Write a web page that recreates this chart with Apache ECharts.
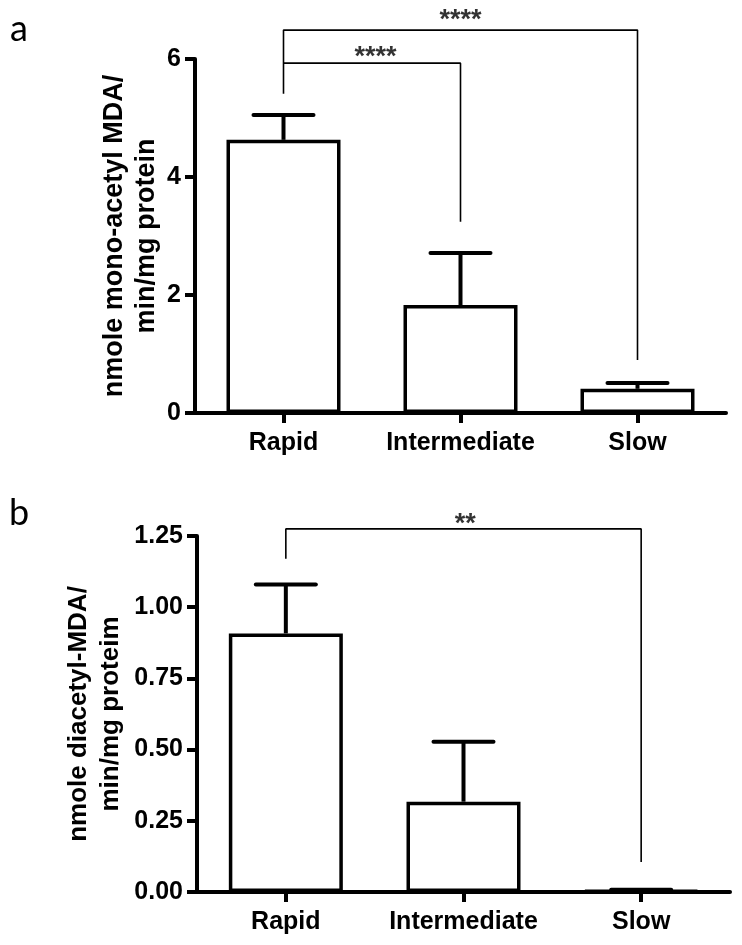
<!DOCTYPE html>
<html><head><meta charset="utf-8">
<script src="https://cdn.jsdelivr.net/npm/echarts@6/dist/echarts.min.js"></script>
<style>html,body{margin:0;padding:0;background:#fff}#c{width:742px;height:945px}</style>
</head><body><div id="c"></div>
<script>
// ---- data ----
const categories = ['Rapid', 'Intermediate', 'Slow'];
const monoMean = [4.63, 1.83, 0.41];
const monoUpper = [5.05, 2.71, 0.51];
const diMean = [0.908, 0.317, 0.005];
const diUpper = [1.08, 0.528, 0.008];
const monoTicks = [0, 2, 4, 6];
const diTicks = [0, 0.25, 0.5, 0.75, 1.0, 1.25];
// significance brackets as [category index, value] paths
const monoBracketOuter = [[0, 5.41], [0, 6.49], [2, 6.49], [2, 0.90]];
const monoBracketInner = [[0, 5.93], [1, 5.93], [1, 3.24]];
const diBracket = [[0, 1.17], [0, 1.275], [2, 1.275], [2, 0.105]];
const monoStars = [{ value: [1, 6.66], name: '****' }, { value: [0.52, 6.02], name: '****' }];
const diStars = [{ value: [1.01, 1.29], name: '**' }];
const monoName = 'nmole mono-acetyl MDA/\nmin/mg protein';
const diName = 'nmole diacetyl-MDA/\nmin/mg proteim';

const chart = echarts.init(document.getElementById('c'), null, { renderer: 'canvas' });
const bold = 'Liberation Sans';

function catAxis(gi) {
  return {
    type: 'category', gridIndex: gi, data: categories,
    axisLine: { show: true, onZero: false, lineStyle: { color: '#000', width: 4 } },
    axisTick: { show: true, alignWithLabel: true, length: 10, lineStyle: { color: '#000', width: 4 } },
    axisLabel: { color: '#000', fontFamily: bold, fontWeight: 'bold', fontSize: 25, margin: 18, interval: 0, hideOverlap: false },
    splitLine: { show: false }
  };
}
function hiddenX(gi) {
  return { type: 'value', gridIndex: gi, min: -0.5, max: 2.5, show: false };
}
function valAxis(gi, ticks, name, gap, fsize, fmt) {
  return {
    type: 'value', gridIndex: gi, min: ticks[0], max: ticks[ticks.length - 1],
    interval: ticks[1] - ticks[0],
    axisLine: { show: true, onZero: false, lineStyle: { color: '#000', width: 4 } },
    axisTick: { show: true, length: 10, lineStyle: { color: '#000', width: 4 } },
    axisLabel: { color: '#000', fontFamily: bold, fontWeight: 'bold', fontSize: 25, margin: 14, formatter: fmt },
    splitLine: { show: false },
    name: name, nameLocation: 'middle', nameRotate: 90, nameGap: gap, nameMoveOverlap: false,
    nameTextStyle: { color: '#000', fontFamily: bold, fontWeight: 'bold', fontSize: fsize, lineHeight: 32, align: 'center' }
  };
}
function barSeries(xi, yi, data) {
  return {
    type: 'bar', xAxisIndex: xi, yAxisIndex: yi, data: data, barWidth: 114,
    itemStyle: { color: '#fff', borderColor: '#000', borderWidth: 3.5 }, z: 2, silent: true
  };
}
function errSeries(xi, yi, mean, upper) {
  return {
    type: 'custom', xAxisIndex: xi, yAxisIndex: yi, z: 3, silent: true,
    data: categories.map((c, i) => [i, mean[i], upper[i]]),
    encode: { x: 0, y: [1, 2] },
    renderItem: function (params, api) {
      const x = api.value(0);
      const base = api.coord([x, api.value(1)]);
      const top = api.coord([x, api.value(2)]);
      return {
        type: 'group', children: [
          { type: 'line', shape: { x1: base[0], y1: base[1], x2: top[0], y2: top[1] }, style: { stroke: '#000', lineWidth: 4 } },
          { type: 'line', shape: { x1: top[0] - 30, y1: top[1], x2: top[0] + 30, y2: top[1] }, style: { stroke: '#000', lineWidth: 4, lineCap: 'round' } }
        ]
      };
    }
  };
}
function bracket(xi, yi, data) {
  return {
    type: 'line', xAxisIndex: xi, yAxisIndex: yi, data: data, symbol: 'none', clip: false, silent: true,
    lineStyle: { color: '#000', width: 1.6 }, z: 4
  };
}
function stars(xi, yi, data) {
  return {
    type: 'scatter', xAxisIndex: xi, yAxisIndex: yi, data: data, symbolSize: 1, clip: false, silent: true,
    itemStyle: { color: 'rgba(0,0,0,0)' },
    label: { show: true, position: 'inside', formatter: '{b}', color: '#000', fontFamily: 'Liberation Sans', fontWeight: 'bold', fontSize: 27 }
  };
}

chart.setOption({
  animation: false,
  backgroundColor: '#fff',
  title: [
    { text: 'a', left: 5, top: 6, textStyle: { fontFamily: 'Lato', fontWeight: 'normal', fontSize: 36, color: '#000' } },
    { text: 'b', left: 4, top: 490, textStyle: { fontFamily: 'Lato', fontWeight: 'normal', fontSize: 36, color: '#000' } }
  ],
  grid: [
    { left: 195, right: 16, top: 59, height: 354 },
    { left: 197, right: 12, top: 536, height: 356 }
  ],
  xAxis: [catAxis(0), catAxis(1), hiddenX(0), hiddenX(1)],
  yAxis: [
    valAxis(0, monoTicks, monoName, 32, 27, v => String(v)),
    valAxis(1, diTicks, diName, 70, 26, v => v.toFixed(2))
  ],
  series: [
    barSeries(0, 0, monoMean),
    errSeries(0, 0, monoMean, monoUpper),
    bracket(2, 0, monoBracketOuter),
    bracket(2, 0, monoBracketInner),
    stars(2, 0, monoStars),
    barSeries(1, 1, diMean),
    errSeries(1, 1, diMean, diUpper),
    bracket(3, 1, diBracket),
    stars(3, 1, diStars)
  ]
});
</script></body></html>
